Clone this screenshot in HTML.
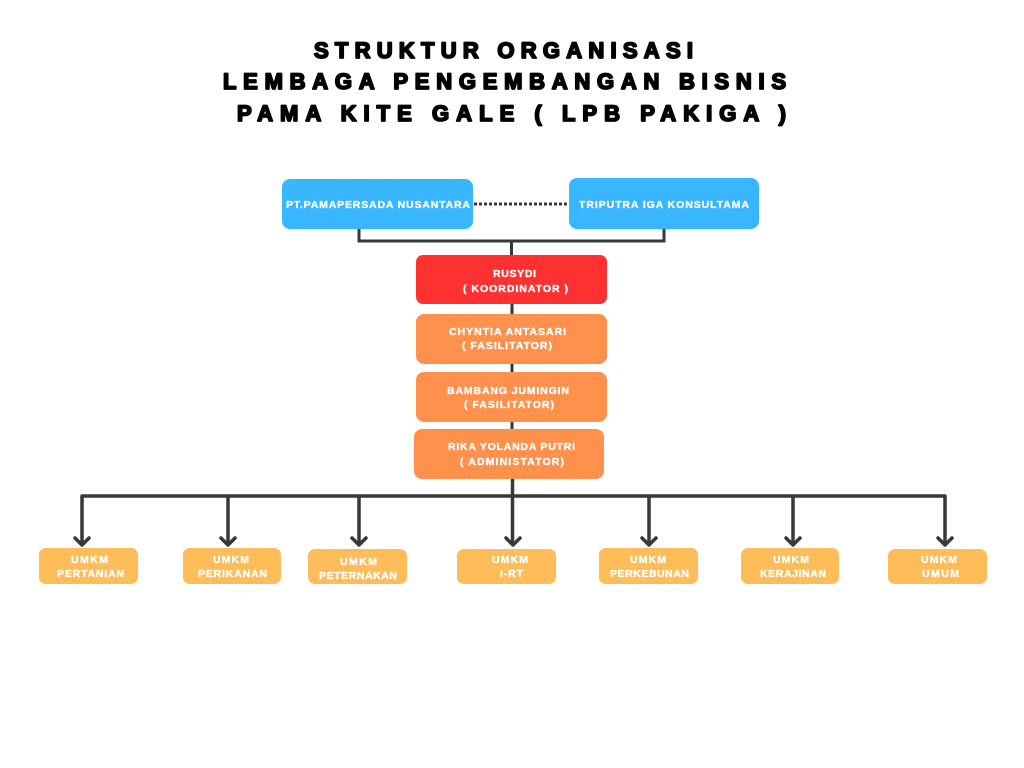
<!DOCTYPE html>
<html>
<head>
<meta charset="utf-8">
<style>
  html,body{margin:0;padding:0;background:#fff;}
  svg{display:block;}
  .t{font-family:"Liberation Sans",sans-serif;font-weight:bold;fill:#000;stroke:#000;stroke-width:1.8;stroke-linejoin:round;font-size:22px;}
  .w{font-family:"Liberation Sans",sans-serif;font-weight:bold;fill:#fff;stroke:#fff;stroke-width:0.35;font-size:10.5px;}
</style>
</head>
<body>
<svg width="1024" height="768" viewBox="0 0 1024 768" xmlns="http://www.w3.org/2000/svg">
  <rect x="0" y="0" width="1024" height="768" fill="#fff"/>

  <!-- Title -->
  <text class="t" x="314" y="58" textLength="379" lengthAdjust="spacing">STRUKTUR ORGANISASI</text>
  <text class="t" x="223" y="89" textLength="563" lengthAdjust="spacing">LEMBAGA PENGEMBANGAN BISNIS</text>
  <text class="t" x="237" y="121" textLength="549" lengthAdjust="spacing">PAMA KITE GALE ( LPB PAKIGA )</text>

  <!-- connectors top -->
  <g fill="none" stroke="#383838" stroke-width="3">
    <path d="M359 229 V241 H664 V229"/>
    <path d="M511.5 241 V256"/>
    <path d="M512 303 V315"/>
    <path d="M512 363 V373"/>
    <path d="M512 421 V430"/>
  </g>
  <line x1="474" y1="204" x2="569" y2="204" stroke="#383838" stroke-width="3" stroke-dasharray="3 2"/>

  <!-- bottom connectors -->
  <g fill="none" stroke="#383838" stroke-width="3.5" stroke-linejoin="round">
    <path d="M512.5 478 V545"/>
    <path d="M82 545 V496 H945 V545"/>
    <path d="M228 496 V545"/>
    <path d="M359 496 V545"/>
    <path d="M649 496 V545"/>
    <path d="M793 496 V545"/>
  </g>
  <g fill="none" stroke="#383838" stroke-width="3.5" stroke-linecap="round" stroke-linejoin="round">
    <path d="M75 538 L82 545 L89 538"/>
    <path d="M221 538 L228 545 L235 538"/>
    <path d="M352 538 L359 545 L366 538"/>
    <path d="M506 538 L513 545 L520 538"/>
    <path d="M642 538 L649 545 L656 538"/>
    <path d="M786 538 L793 545 L800 538"/>
    <path d="M938 538 L945 545 L952 538"/>
  </g>

  <!-- top boxes -->
  <rect x="282" y="179" width="191" height="50" rx="8" fill="#38b6ff"/>
  <rect x="569" y="178" width="190" height="51" rx="8" fill="#38b6ff"/>
  <text class="w" x="286" y="208" textLength="184" lengthAdjust="spacing">PT.PAMAPERSADA NUSANTARA</text>
  <text class="w" x="579" y="208" textLength="170" lengthAdjust="spacing">TRIPUTRA IGA KONSULTAMA</text>

  <!-- red -->
  <rect x="416" y="255" width="191" height="49" rx="7" fill="#ff3131"/>
  <text class="w" x="493" y="277" textLength="43" lengthAdjust="spacing">RUSYDI</text>
  <text class="w" x="463" y="292" textLength="105" lengthAdjust="spacing">( KOORDINATOR )</text>

  <!-- orange -->
  <rect x="416" y="314" width="191" height="50" rx="8" fill="#ff914d"/>
  <text class="w" x="449" y="335" textLength="117" lengthAdjust="spacing">CHYNTIA ANTASARI</text>
  <text class="w" x="462" y="349" textLength="90" lengthAdjust="spacing">( FASILITATOR)</text>

  <rect x="416" y="372" width="191" height="50" rx="8" fill="#ff914d"/>
  <text class="w" x="447" y="394" textLength="122" lengthAdjust="spacing">BAMBANG JUMINGIN</text>
  <text class="w" x="464" y="408" textLength="90" lengthAdjust="spacing">( FASILITATOR)</text>

  <rect x="414" y="429" width="190" height="50" rx="8" fill="#ff914d"/>
  <text class="w" x="448" y="450" textLength="127" lengthAdjust="spacing">RIKA YOLANDA PUTRI</text>
  <text class="w" x="460" y="465" textLength="104" lengthAdjust="spacing">( ADMINISTATOR)</text>

  <!-- bottom boxes -->
  <g fill="#ffbd59">
    <rect x="39" y="548" width="99" height="36" rx="7"/>
    <rect x="183" y="548" width="98" height="36" rx="7"/>
    <rect x="308" y="549" width="99" height="35" rx="7"/>
    <rect x="457" y="549" width="99" height="35" rx="7"/>
    <rect x="599" y="548" width="99" height="36" rx="7"/>
    <rect x="741" y="548" width="98" height="36" rx="7"/>
    <rect x="888" y="549" width="99" height="35" rx="7"/>
  </g>
  <text class="w" x="71" y="563" textLength="37" lengthAdjust="spacing">UMKM</text>
  <text class="w" x="57" y="577" textLength="67" lengthAdjust="spacing">PERTANIAN</text>

  <text class="w" x="213" y="563" textLength="36" lengthAdjust="spacing">UMKM</text>
  <text class="w" x="198" y="577" textLength="69" lengthAdjust="spacing">PERIKANAN</text>

  <text class="w" x="340" y="565" textLength="37" lengthAdjust="spacing">UMKM</text>
  <text class="w" x="319" y="579" textLength="78" lengthAdjust="spacing">PETERNAKAN</text>

  <text class="w" x="492" y="563" textLength="36" lengthAdjust="spacing">UMKM</text>
  <text class="w" x="500" y="577" textLength="23" lengthAdjust="spacing">I-RT</text>

  <text class="w" x="630" y="563" textLength="36" lengthAdjust="spacing">UMKM</text>
  <text class="w" x="610" y="577" textLength="79" lengthAdjust="spacing">PERKEBUNAN</text>

  <text class="w" x="773" y="563" textLength="36" lengthAdjust="spacing">UMKM</text>
  <text class="w" x="760" y="577" textLength="66" lengthAdjust="spacing">KERAJINAN</text>

  <text class="w" x="921" y="563" textLength="36" lengthAdjust="spacing">UMKM</text>
  <text class="w" x="922" y="577" textLength="37" lengthAdjust="spacing">UMUM</text>
</svg>
</body>
</html>
